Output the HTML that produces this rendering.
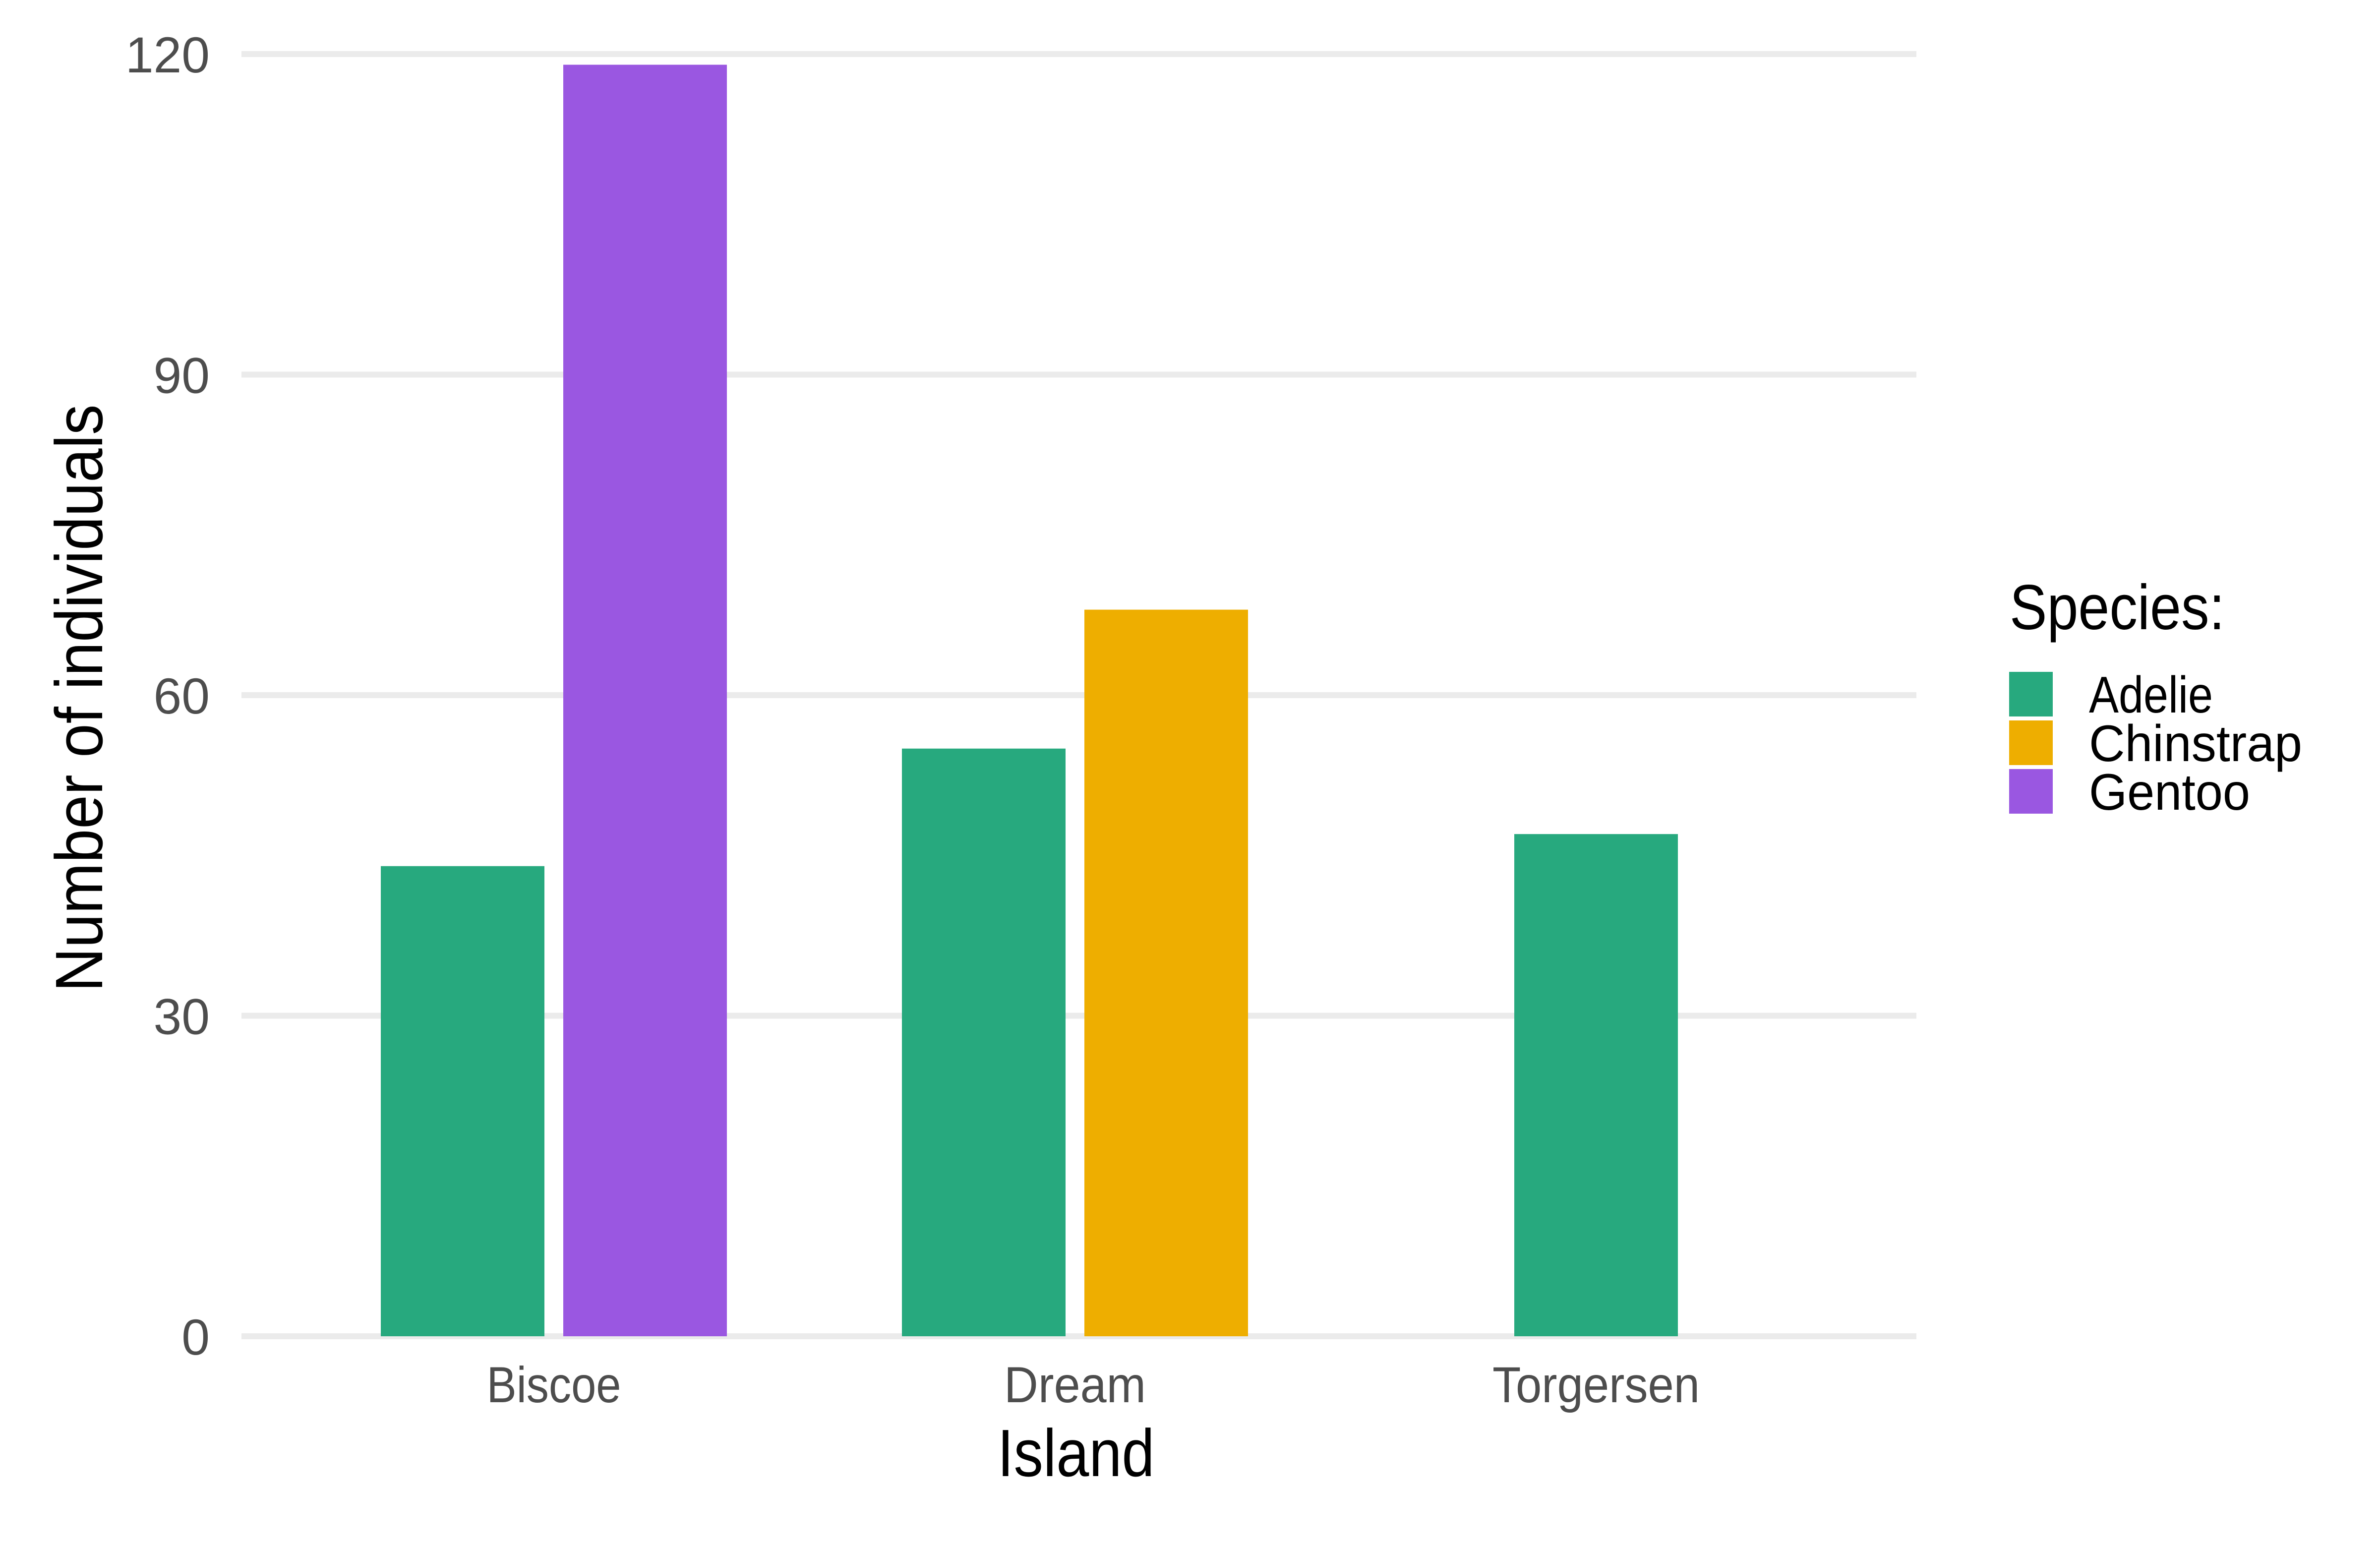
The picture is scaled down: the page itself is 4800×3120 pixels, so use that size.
<!DOCTYPE html>
<html><head><meta charset="utf-8"><style>
html,body{margin:0;padding:0;background:#fff;width:4800px;height:3120px;overflow:hidden}
svg{display:block}
text{font-family:"Liberation Sans Narrow","Liberation Sans",sans-serif}
</style></head><body>
<svg id="chart" width="4800" height="3120" viewBox="0 0 4800 3120" xmlns="http://www.w3.org/2000/svg">
<g id="grid"></g>
<g id="yticks"></g>
<g id="bars"></g>
<g id="xticks"></g>
<text x="2170" y="2977" font-size="135" text-anchor="middle" textLength="317" lengthAdjust="spacingAndGlyphs" fill="#000">Island</text>
<text transform="translate(206,1408) rotate(-90)" font-size="135" text-anchor="middle" textLength="1185" lengthAdjust="spacingAndGlyphs" fill="#000">Number of individuals</text>
<g id="legend">
<text x="4053" y="1269" font-size="128" textLength="434" lengthAdjust="spacingAndGlyphs" fill="#000">Species:</text>
</g>
</svg>
<script>
const categories = ["Biscoe", "Dream", "Torgersen"];
const species = ["Adelie", "Chinstrap", "Gentoo"];
const adelie = [44, 55, 47];
const chinstrap = [0, 68, 0];
const gentoo = [119, 0, 0];
const yTicks = [0, 30, 60, 90, 120];
const colors = ["#27a97e", "#eeae00", "#9a57e1"];
const xLabelWidths = [271, 286, 418];
const legendWidths = [250, 430, 325];

const NS = "http://www.w3.org/2000/svg";
const y0 = 2695, y120 = 109;
function yScale(v){ return y0 - (y0 - y120) * v / 120; }
const cat0 = 1117, catStep = 1051;
function xScale(i){ return cat0 + i * catStep; }
const barW = 330, half = 184;
function mk(tag, attrs, parent){ const e=document.createElementNS(NS,tag); for(const k in attrs) e.setAttribute(k,attrs[k]); parent.appendChild(e); return e; }

const grid = document.getElementById('grid'), yt = document.getElementById('yticks');
yTicks.forEach(t => {
  const l = mk('rect',{x:487,y:yScale(t)-6,width:3378,height:12,fill:'#ebebeb'},grid);
  
  
  const tx = mk('text',{x:423,y:yScale(t)+37,'font-size':102,'text-anchor':'end',fill:'#4d4d4d'},yt);
  
  
  tx.textContent = t;
});

const series = [adelie, chinstrap, gentoo];
const bars = document.getElementById('bars');
categories.forEach((c, i) => {
  const present = series.map((s, k) => k).filter(k => series[k][i] > 0);
  present.forEach((k, j) => {
    const n = present.length;
    const cx = xScale(i) + (n === 1 ? 0 : (j === 0 ? -half : half));
    const v = series[k][i];
    const r = mk('rect',{x:cx-barW/2,y:yScale(v),width:barW,height:y0-yScale(v),fill:colors[k]},bars);
    
    
  });
});

const xt = document.getElementById('xticks');
categories.forEach((c, i) => {
  const t = mk('text',{x:xScale(i),y:2828,'font-size':102,'text-anchor':'middle',fill:'#4d4d4d',textLength:xLabelWidths[i],lengthAdjust:'spacingAndGlyphs'},xt);
  
  
  t.textContent = c;
});

const lg = document.getElementById('legend');
species.forEach((s, k) => {
  const top = 1355 + k * 98;
  const sw = mk('rect',{x:4052,y:top,width:88,height:90,fill:colors[k]},lg);
  
  
  const t = mk('text',{x:4213,y:top+82,'font-size':104,fill:'#000',textLength:legendWidths[k],lengthAdjust:'spacingAndGlyphs'},lg);
  
  
  t.textContent = s;
});
</script>
</body></html>
